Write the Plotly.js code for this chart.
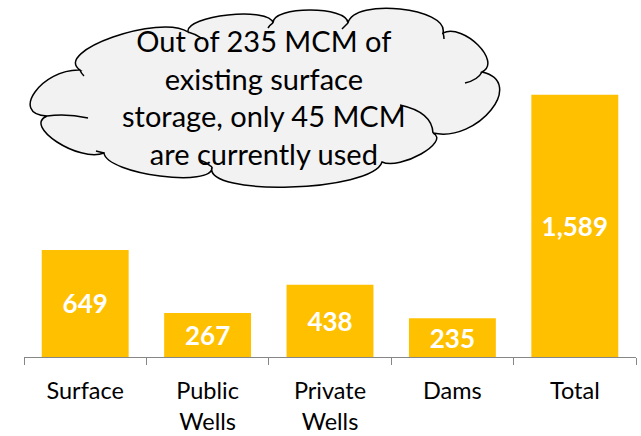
<!DOCTYPE html>
<html><head><meta charset="utf-8">
<script src="https://cdn.plot.ly/plotly-3.0.1.min.js"></script>
<style>html,body{margin:0;padding:0;background:#fff}</style>
</head><body><div id="chart" style="width:641px;height:436px"></div>
<script>
// ---- data ----
const categories = ['Surface', 'Public<br>Wells', 'Private<br>Wells', 'Dams', 'Total'];
const values = [649, 267, 438, 235, 1589];
const calloutLines = ['Out of 235 MCM of', 'existing surface', 'storage, only 45 MCM', 'are currently used'];

// ---- layout geometry ----
const W = 641, H = 436;
const M = {l: 24, r: 5, t: 60, b: 79};
const PW = W - M.l - M.r, PH = H - M.t - M.b;
const px = x => (x - M.l) / PW;
const py = y => (H - M.b - y) / PH;

// cloud outline: [start, peak, end] in pixels, clockwise
const bumps = [
  [[47,116],[35,92],[80,70]],
  [[80,70],[113,37],[188,32]],
  [[188,32],[228,15],[273,23]],
  [[273,23],[310,10],[348,23]],
  [[348,23],[400,9],[443,33]],
  [[443,33],[478,45],[482,72]],
  [[482,72],[491,110],[433,133]],
  [[433,133],[421,154],[382,162]],
  [[382,162],[290,187],[212,167]],
  [[212,167],[160,176],[104,153]],
  [[104,153],[57,142],[47,116]]
];
function pt(p){ return px(p[0]).toFixed(4) + ',' + py(p[1]).toFixed(4); }
let path = 'M ' + pt(bumps[0][0]);
bumps.forEach(b => {
  const [P, Mk, Q] = b;
  const mx = (P[0] + Q[0]) / 2, my = (P[1] + Q[1]) / 2;
  const vx = 4/3 * (Mk[0] - mx), vy = 4/3 * (Mk[1] - my);
  path += ' C ' + pt([P[0]+vx, P[1]+vy]) + ' ' + pt([Q[0]+vx, Q[1]+vy]) + ' ' + pt(Q);
});
path += ' Z';

// inner arcs of the cloud
const inner = [
  [[47,116],[66,113],[88,118]],
  [[482,72],[478,80],[465,83]],
  [[433,133],[432,112],[400,105]],
  [[188,32],[196,34],[203,39]],
  [[80,70],[81,73],[84,76]],
  [[273,23],[270,25],[268,28]],
  [[348,23],[345,26],[342,29]],
  [[443,33],[444,36],[444,39]],
  [[212,167],[206,162],[200,160]],
  [[104,153],[100,152],[96,151]]
];
const innerShapes = inner.map(a => ({
  type: 'path', xref: 'paper', yref: 'paper',
  path: 'M ' + pt(a[0]) + ' Q ' + pt(a[1]) + ' ' + pt(a[2]),
  line: {color: '#000', width: 1.5}, fillcolor: 'rgba(0,0,0,0)'
}));

const trace = {
  type: 'bar',
  x: categories,
  y: values,
  marker: {color: '#FFC000', line: {width: 0}},
  texttemplate: '%{y:,}',
  textposition: 'inside',
  insidetextanchor: 'middle',
  constraintext: 'none',
  textangle: 0,
  insidetextfont: {family: 'Lato, sans-serif', size: 26, color: '#ffffff', weight: 'bold'},
  hoverinfo: 'skip'
};

const layout = {
  width: W, height: H,
  margin: M,
  paper_bgcolor: '#ffffff', plot_bgcolor: '#ffffff',
  showlegend: false,
  bargap: 0.29,
  font: {family: 'Lato, sans-serif', color: '#000'},
  xaxis: {
    type: 'category',
    tickson: 'boundaries',
    ticks: 'outside', ticklen: 7, tickwidth: 1, tickcolor: '#868686',
    ticklabelstandoff: 13,
    showline: true, linecolor: '#868686', linewidth: 1,
    showgrid: false, zeroline: false,
    tickfont: {family: 'Lato, sans-serif', size: 23.5, color: '#000'}
  },
  yaxis: {
    range: [0, 1800],
    visible: false, showgrid: false, zeroline: false, fixedrange: true
  },
  shapes: [{
    type: 'path', xref: 'paper', yref: 'paper', path: path,
    fillcolor: '#f2f2f2', line: {color: '#000', width: 1.5}
  }].concat(innerShapes),
  annotations: [{
    xref: 'paper', yref: 'paper',
    x: px(264), y: py(97),
    xanchor: 'center', yanchor: 'middle',
    text: calloutLines.join('<br>'),
    showarrow: false, align: 'center',
    font: {family: 'Lato, sans-serif', size: 29, color: '#000'}
  }]
};

Plotly.newPlot('chart', [trace], layout, {displayModeBar: false, staticPlot: true});
</script></body></html>
